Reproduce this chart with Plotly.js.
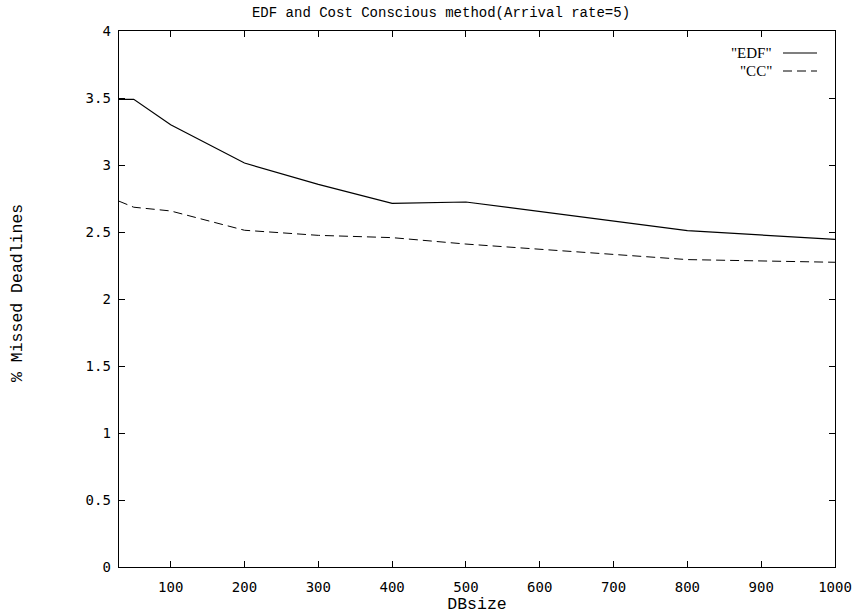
<!DOCTYPE html>
<html><head><meta charset="utf-8">
<script src="https://cdn.plot.ly/plotly-3.0.1.min.js"></script>
<style>html,body{margin:0;padding:0;background:#fff;}</style>
</head><body>
<div id="chart" style="width:857px;height:615px;"></div>
<script>
const dbSize = [30, 50, 100, 200, 300, 400, 500, 800, 1000];
const edf = [3.49, 3.49, 3.30, 3.015, 2.855, 2.714, 2.724, 2.51, 2.445];
const cc  = [2.73, 2.685, 2.657, 2.513, 2.475, 2.458, 2.41, 2.294, 2.274];
const seriesNames = ['"EDF"', '"CC"'];
const xTicks = [100, 200, 300, 400, 500, 600, 700, 800, 900, 1000];
const yTicks = [0, 0.5, 1, 1.5, 2, 2.5, 3, 3.5, 4];

const mono = 'Liberation Mono, Courier New, monospace';
const tickMono = 'DejaVu Sans Mono, monospace';
const traces = [
  {x: dbSize, y: edf, mode: 'lines', name: seriesNames[0], line: {color: '#000', width: 1.2, dash: 'solid'}, showlegend: false},
  {x: dbSize, y: cc, mode: 'lines', name: seriesNames[1], line: {color: '#000', width: 1, dash: '9px,5px'}, showlegend: false}
];
const layout = {
  width: 857, height: 615,
  margin: {l: 119, r: 22, t: 31, b: 48},
  paper_bgcolor: '#fff', plot_bgcolor: '#fff',
  title: {text: 'EDF and Cost Conscious method(Arrival rate=5)', font: {family: mono, size: 14, color: '#000'}, x: 441/857, xanchor: 'center', y: 0.988, yanchor: 'top'},
  xaxis: {
    range: [30, 1000], tickvals: xTicks, ticktext: xTicks.map(String),
    ticks: 'inside', ticklen: 6, tickcolor: '#000', mirror: 'allticks',
    showline: true, linecolor: '#000', linewidth: 1.3, showgrid: false, zeroline: false,
    ticklabelstandoff: 7,
    tickfont: {family: tickMono, size: 14, color: '#000'},
    title: {text: 'DBsize', font: {family: mono, size: 16.5, color: '#000'}, standoff: 0}
  },
  yaxis: {
    range: [0, 4], tickvals: yTicks, ticktext: yTicks.map(String),
    ticks: 'inside', ticklen: 6, tickcolor: '#000', mirror: 'allticks',
    showline: true, linecolor: '#000', linewidth: 1.3, showgrid: false, zeroline: false,
    ticklabelstandoff: 4,
    tickfont: {family: tickMono, size: 14, color: '#000'}
  },
  annotations: [
    {xref: 'paper', yref: 'paper', x: (774-119)/716, y: (567-53)/536, text: seriesNames[0], showarrow: false, xanchor: 'right', yanchor: 'middle', font: {family: 'Liberation Serif, Times New Roman, serif', size: 15, color: '#000'}},
    {xref: 'paper', yref: 'paper', x: (774-119)/716, y: (567-71)/536, text: seriesNames[1], showarrow: false, xanchor: 'right', yanchor: 'middle', font: {family: 'Liberation Serif, Times New Roman, serif', size: 15, color: '#000'}},
    {xref: 'paper', yref: 'paper', x: (17-119)/716, y: (567-293)/536, text: '% Missed Deadlines', textangle: -90, showarrow: false, xanchor: 'center', yanchor: 'middle', font: {family: mono, size: 16.5, color: '#000'}}
  ],
  shapes: [
    {type: 'line', xref: 'paper', yref: 'paper', x0: (783-119)/716, x1: (817-119)/716, y0: (567-53)/536, y1: (567-53)/536, line: {color: '#000', width: 1.2}},
    {type: 'line', xref: 'paper', yref: 'paper', x0: (783-119)/716, x1: (817-119)/716, y0: (567-71)/536, y1: (567-71)/536, line: {color: '#000', width: 1, dash: '9px,5px'}}
  ]
};
Plotly.newPlot('chart', traces, layout, {displayModeBar: false, staticPlot: true});
</script>
</body></html>
